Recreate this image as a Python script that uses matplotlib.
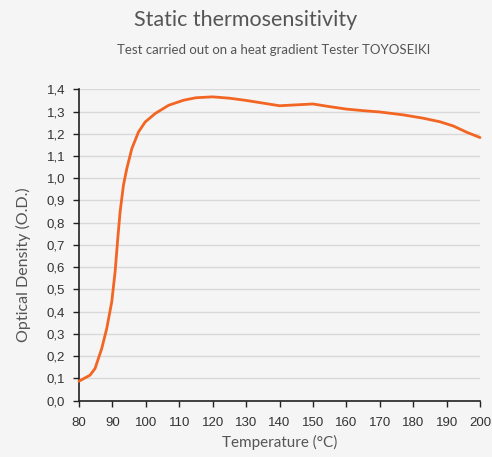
import matplotlib
matplotlib.use("Agg")
import matplotlib.pyplot as plt
from matplotlib.ticker import FuncFormatter

temps = [80, 83.3, 84.8, 86.8, 88.3, 89.8, 90.8, 91.6, 92.3, 93.3, 94.3, 95.8, 97.8, 99.8,
         102.8, 106.8, 111.3, 115, 120, 125, 130, 135, 140, 145, 150, 155, 160, 165, 170,
         177, 183, 188, 192, 196, 200]
density = [0.087, 0.114, 0.144, 0.234, 0.324, 0.444, 0.579, 0.729, 0.849, 0.969, 1.043, 1.133,
           1.208, 1.253, 1.291, 1.328, 1.351, 1.362, 1.366, 1.360, 1.350, 1.338, 1.326, 1.330,
           1.334, 1.322, 1.311, 1.304, 1.298, 1.285, 1.270, 1.254, 1.235, 1.207, 1.183]

x_ticks = list(range(80, 201, 10))
y_ticks = [i / 10 for i in range(0, 15)]

title = "Static thermosensitivity"
subtitle = "Test carried out on a heat gradient Tester TOYOSEIKI"
xlabel = "Temperature (°C)"
ylabel = "Optical Density (O.D.)"

bg = "#f5f5f5"
fig = plt.figure(figsize=(4.92, 4.57), dpi=100, facecolor=bg)
ax = fig.add_axes([0.1606, 0.1236, 0.815, 0.681], facecolor=bg)

ax.plot(temps, density, color="#f26522", lw=2.0, solid_capstyle="round", solid_joinstyle="round", zorder=3, clip_on=False)

ax.set_xlim(80, 200)
ax.set_ylim(0, 1.4)
ax.set_xticks(x_ticks)
ax.set_yticks(y_ticks)
ax.yaxis.set_major_formatter(FuncFormatter(lambda v, p: f"{v:.1f}".replace(".", ",")))
ax.grid(axis="y", color="#d9d9d9", lw=1.0)
ax.set_axisbelow(True)
for s in ["top", "right"]:
    ax.spines[s].set_visible(False)
for s in ["left", "bottom"]:
    ax.spines[s].set_color("#222222")
    ax.spines[s].set_linewidth(1.2)
ax.tick_params(axis="both", direction="out", length=4, width=1.0, color="#222222",
               labelsize=9.5, labelcolor="#333333")
ax.tick_params(axis="x", pad=8)
ax.tick_params(axis="y", pad=6)
for lab in ax.get_xticklabels() + ax.get_yticklabels():
    lab.set_family("Liberation Sans")

light = dict(family="Lato", fontweight="normal", color="#555555")
fig.text(0.5, 0.957, title, ha="center", va="center", fontsize=15.5, **light)
fig.text(0.556, 0.891, subtitle, ha="center", va="center", fontsize=9.5, **light)
ax.set_xlabel(xlabel, fontsize=11, labelpad=4, **light)
fig.text(0.047, 0.42, ylabel, rotation=90, ha="center", va="center", fontsize=11.5, **light)

fig.savefig("out.png", dpi=100, facecolor=bg)
